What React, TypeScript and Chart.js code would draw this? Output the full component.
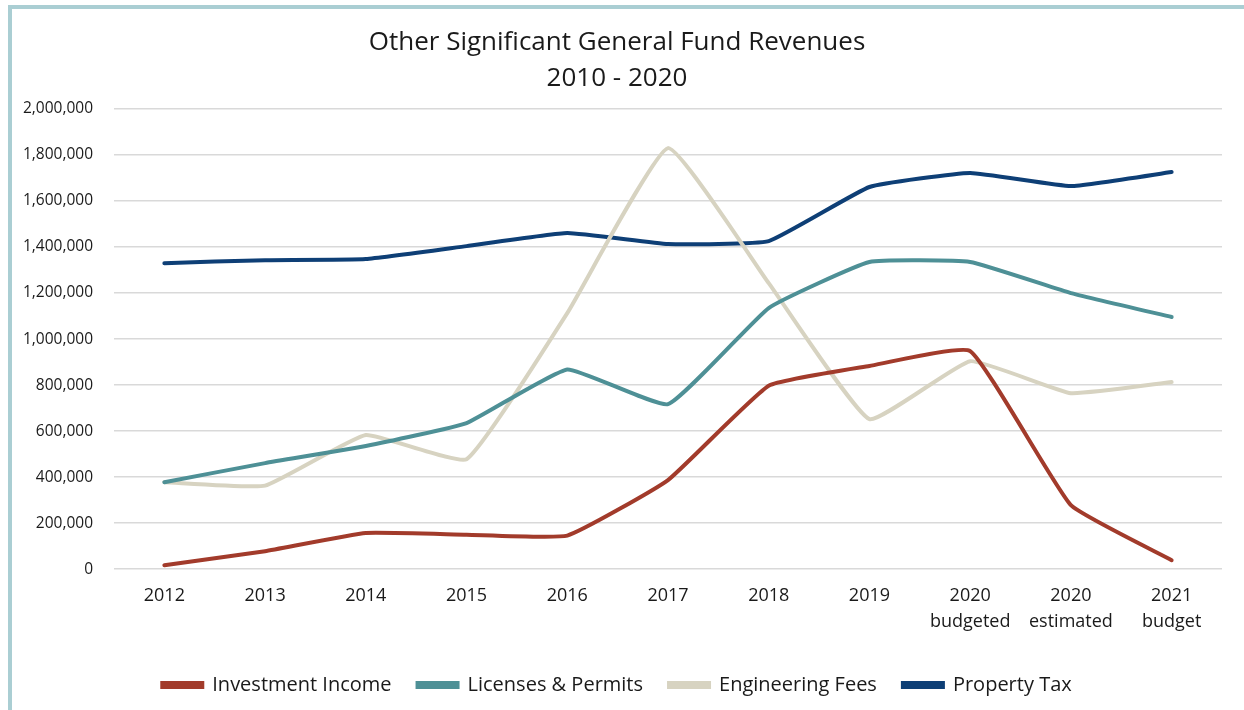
import React, { useEffect, useRef } from "react";
import { Chart, registerables } from "chart.js";

Chart.register(...registerables);

const categories: (string | string[])[] = [
  "2012", "2013", "2014", "2015", "2016", "2017", "2018", "2019",
  ["2020", "budgeted"], ["2020", "estimated"], ["2021", "budget"],
];

const investmentIncome = [17000, 78000, 157000, 150000, 146000, 387000, 797000, 883000, 948000, 278000, 39000];
const licensesPermits = [378000, 461000, 535000, 635000, 868000, 717000, 1135000, 1335000, 1335000, 1200000, 1096000];
const engineeringFees = [378000, 363000, 583000, 478000, 1113000, 1830000, 1243000, 652000, 904000, 765000, 813000];
const propertyTax = [1330000, 1343000, 1348000, 1404000, 1461000, 1413000, 1426000, 1661000, 1722000, 1665000, 1726000];

const titleLines = ["Other Significant General Fund Revenues", "2010 - 2020"];

const FONT = "'Open Sans', sans-serif";

export default function App() {
  const ref = useRef<HTMLCanvasElement | null>(null);

  useEffect(() => {
    if (!ref.current) return;
    const mk = (label: string, data: number[], color: string) => ({
      label,
      data,
      borderColor: color,
      backgroundColor: color,
      borderWidth: 4,
      pointRadius: 0,
      tension: 0.12,
      borderCapStyle: "round" as const,
    });
    const chart = new Chart(ref.current, {
      type: "line",
      data: {
        labels: categories as any,
        datasets: [
          mk("Investment Income", investmentIncome, "#A23B2B"),
          mk("Licenses & Permits", licensesPermits, "#4E9096"),
          mk("Engineering Fees", engineeringFees, "#D7D3C1"),
          mk("Property Tax", propertyTax, "#0E3F76"),
        ],
      },
      options: {
        animation: false,
        responsive: false,
        maintainAspectRatio: false,
        layout: { padding: { left: 0, right: 22, top: 0, bottom: 5 } },
        plugins: {
          title: {
            display: true,
            text: titleLines,
            color: "#1a1a1a",
            font: { family: FONT, size: 26, weight: "normal", lineHeight: 1.35 },
            padding: { top: 16.5, bottom: 13.3 },
          },
          legend: {
            position: "bottom",
            labels: {
              boxWidth: 40,
              boxHeight: 4,
              padding: 26,
              color: "#1a1a1a",
              font: { family: FONT, size: 20 },
            },
          },
          tooltip: { enabled: false },
        },
        scales: {
          x: {
            offset: true,
            grid: { display: false, drawTicks: false },
            border: { display: false },
            ticks: {
              color: "#1a1a1a",
              font: { family: FONT, size: 18, lineHeight: 1.44 },
              padding: 14,
              maxRotation: 0,
              autoSkip: false,
            },
          },
          y: {
            min: 0,
            max: 2000000,
            afterFit: (s: any) => { s.width = 102; },
            grid: { color: "#D9D9D9", lineWidth: 1.5, drawTicks: false },
            border: { display: false },
            ticks: {
              stepSize: 200000,
              padding: 21,
              color: "#1a1a1a",
              font: { family: FONT, size: 15.5 },
              callback: (v: any) => Number(v).toLocaleString("en-US"),
            },
          },
        },
      },
    });
    return () => chart.destroy();
  }, []);

  return (
    <div
      style={{
        position: "absolute",
        left: 8,
        top: 5,
        width: 1236,
        height: 705,
        borderTop: "4px solid #AACED3",
        borderLeft: "4px solid #AACED3",
        boxSizing: "border-box",
        background: "#fff",
      }}
    >
      <canvas ref={ref} width={1232} height={701} style={{ display: "block" }} />
    </div>
  );
}
